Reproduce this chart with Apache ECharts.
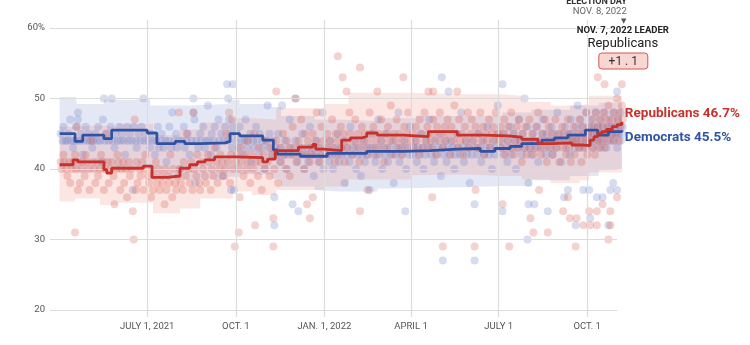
<!DOCTYPE html>
<html>
<head>
<meta charset="utf-8">
<script src="https://cdn.jsdelivr.net/npm/echarts@6/dist/echarts.min.js"></script>
<style>
  html, body { margin: 0; padding: 0; background: #fff; }
  #chart { width: 750px; height: 345px; }
</style>
</head>
<body>
<div id="chart"></div>
<script>
// Generic congressional ballot: poll results, running averages and uncertainty bands.
// Every x value below is a day count from START_DATE.
const START_DATE = Date.UTC(2021, 2, 22);
const ELECTION_DATE = Date.UTC(2022, 10, 8);
const GRID_END_DATE = Date.UTC(2022, 10, 1);
const DAY_MS = 86400000;

const Y_TICKS = [20, 30, 40, 50, 60];
const Y_TICK_LABELS = ['20', '30', '40', '50', '60%'];
const X_TICK_DATES = [Date.UTC(2021, 6, 1), Date.UTC(2021, 9, 1), Date.UTC(2022, 0, 1),
                      Date.UTC(2022, 3, 1), Date.UTC(2022, 6, 1), Date.UTC(2022, 9, 1)];
const X_TICK_LABELS = ['JULY 1, 2021', 'OCT. 1', 'JAN. 1, 2022', 'APRIL 1', 'JULY 1', 'OCT. 1'];

const LEADER_NAME = 'Republicans';
const LEADER_MARGIN = '+1 . 1';

// Running averages [day, percent]
const repAverage = [
  [10,40.6],[24,41.3],[29,41.0],[56,39.9],[59,39.4],[64,40.1],[97,40.4],[106,38.8],[122,39.0],
  [135,40.1],[145,40.6],[153,41.0],[161,41.3],[171,41.7],[192,41.6],[221,41.0],[226,41.4],
  [234,42.6],[258,43.1],[273,43.5],[276,42.8],[284,42.6],[303,44.1],[312,44.4],[324,44.6],
  [329,45.1],[340,44.8],[367,44.6],[393,45.3],[423,44.8],[450,44.7],[476,44.5],[490,44.2],
  [507,43.6],[521,43.7],[542,43.4],[553,43.3],[561,44.1],[565,44.6],[569,45.0],[573,45.3],
  [578,45.6],[584,46.0],[589,46.3],[594,46.7]
];
const demAverage = [
  [10,45.0],[26,43.9],[34,44.8],[56,44.3],[64,45.5],[101,45.1],[111,43.6],[130,43.9],[140,43.6],
  [156,43.7],[182,43.9],[187,45.0],[197,44.7],[221,44.1],[232,42.7],[236,42.1],[260,41.8],
  [288,42.2],[329,42.5],[367,42.6],[395,42.8],[423,42.9],[447,42.5],[462,42.9],[478,43.2],
  [490,43.6],[511,44.1],[524,44.4],[538,44.8],[556,45.5],[569,44.8],[580,45.3],[594,45.5]
];

// Uncertainty bands [day, low, high]
const repBand = [
  [10,35.4,46.0],[26,35.8,46.2],[52,34.9,46.0],[70,35.2,46.4],[107,33.7,44.8],[135,34.4,45.6],
  [156,35.8,46.6],[190,36.8,47.2],[210,36.3,47.0],[235,37.0,48.6],[285,37.5,49.2],[310,38.5,50.8],
  [375,39.1,50.6],[430,39.2,50.6],[470,39.0,50.4],[490,38.5,49.5],[520,38.0,49.0],[550,38.4,49.2],
  [560,39.5,50.4],[594,40.5,51.2]
];
const demBand = [
  [10,40.0,50.2],[26,39.6,50.6],[28,39.5,49.2],[56,39.6,49.8],[86,40.0,50.0],[104,38.6,49.0],
  [145,38.5,49.2],[185,38.9,49.8],[197,39.2,49.2],[230,38.6,48.8],[240,37.5,47.5],[275,37.0,47.0],
  [300,36.8,46.8],[340,37.2,47.2],[380,37.3,47.5],[430,37.4,47.6],[470,37.6,48.0],[500,38.4,48.4],
  [540,39.0,49.0],[570,39.8,49.4],[594,40.0,49.8]
];

// Individual polls [day, percent]
const demPolls = [
  [11,45],[13,44],[14,46],[16,44],[18,44],[19,45],[21,47],[22,44],[24,43],[25,44],[27,46],[28,44],[29,48],[29,47],
  [31,44],[32,45],[34,42],[35,44],[37,46],[39,44],[40,45],[42,44],[44,43],[45,44],[47,45],[49,44],[50,46],[52,44],
  [54,41],[55,47],[56,50],[57,44],[59,45],[61,44],[63,46],[64,50],[65,44],[67,43],[68,45],[70,44],[72,46],[73,44],
  [75,45],[77,44],[78,42],[80,46],[81,44],[83,45],[85,44],[86,37],[87,46],[89,44],[90,43],[92,45],[94,44],[95,46],
  [97,50],[98,44],[99,45],
  [102,44],[104,43],[105,45],[107,44],[109,42],[110,44],[112,46],[113,43],[115,44],[116,45],[118,43],[120,44],
  [121,41],[123,44],[124,46],[126,43],[127,48],[129,44],[131,45],[132,43],[134,44],[135,40],[137,44],[139,46],
  [140,43],[142,44],[143,45],[145,42],[147,44],[149,50],[149,48],[150,47],[151,38],[152,44],[154,43],[156,45],
  [157,44],[159,46],[161,43],[162,44],[164,49],[165,44],[167,42],[168,45],[170,44],[171,46],[173,43],[175,47],
  [176,44],[178,45],[179,39],[181,44],[182,46],[184,52],[185,50],[185,44],[186,47],[187,45],[188,37],[189,43],
  [190,52],[190,46],[191,37],
  [193,44],[194,45],[196,43],[197,46],[199,44],[200,42],[202,44],[203,47],[205,43],[206,44],[208,45],[209,41],
  [211,44],[212,43],[214,46],[215,44],[217,42],[218,45],[220,43],[221,44],[223,40],[224,44],[226,49],[227,43],
  [228,45],[230,42],[232,44],[233,36],[233,32],[234,43],[236,42],[237,45],[239,41],[240,43],[241,49],[243,42],
  [244,44],[246,40],[247,42],[249,47],[250,43],[252,35],[253,42],[255,50],[255,44],[257,41],[258,34],[259,43],
  [261,42],[262,45],[264,40],[265,42],[267,43],[268,41],[270,46],[271,42],[273,43],[274,39],[276,42],[277,44],
  [279,41],[280,43],[282,42],[283,48],[284,40],
  [287,42],[288,43],[290,41],[291,44],[293,42],[294,40],[296,43],[297,42],[299,45],[300,41],[302,43],[303,42],
  [305,44],[306,38],[308,42],[309,43],[311,41],[312,46],[314,42],[315,43],[317,44],[318,40],[320,42],[321,43],
  [323,39],[324,42],[326,44],[327,41],[329,43],[330,42],[332,37],[333,43],[335,45],[336,42],[338,41],[339,43],
  [341,47],[342,42],[344,44],[345,40],[347,43],[348,42],[350,45],[351,41],[353,43],[354,42],[356,44],[357,38],
  [359,42],[360,43],[362,48],[363,41],[365,43],[366,42],[368,44],[369,34],[370,40],[372,43],[373,42],[374,46],
  [377,42],[378,43],[379,44],[381,41],[382,43],[384,42],[385,45],[387,43],[388,40],[390,42],[391,44],[393,43],
  [394,47],[396,42],[397,43],[399,41],[400,44],[402,42],[403,43],[405,45],[406,39],[407,53],[408,27],[408,43],
  [409,42],[411,44],[412,41],[414,51],[414,43],[415,42],[417,44],[418,43],[420,40],[421,42],[423,45],[424,43],
  [426,42],[427,48],[429,43],[430,41],[432,44],[433,42],[435,43],[436,38],[438,42],[439,44],[441,35],[441,27],
  [442,43],[444,42],[445,45],[447,43],[448,41],[450,44],[451,42],[453,43],[454,46],[456,42],[457,43],[459,40],
  [460,44],[462,42],[463,43],[465,45],[465,49],
  [468,43],[469,44],[470,52],[470,34],[471,42],[472,45],[474,43],[475,41],[476,44],[478,46],[479,42],[480,43],
  [482,45],[483,44],[484,40],[486,43],[487,47],[488,44],[490,42],[491,45],[493,50],[493,43],[494,44],[496,30],
  [496,46],[497,35],[497,38],[498,43],[499,44],[500,42],[502,45],[503,35],[503,44],[504,43],[506,46],[507,41],
  [508,44],[510,43],[511,45],[512,47],[514,44],[515,42],[516,45],[517,34],[518,43],[519,44],[521,46],[522,42],
  [523,45],[525,44],[526,43],[527,48],[529,44],[530,45],[531,41],[533,44],[534,36],[535,46],[536,43],[538,37],
  [538,45],[539,44],[540,42],[541,47],[542,45],[543,44],[545,43],[546,32],[546,46],[547,44],[548,49],[549,45],
  [550,43],[551,47],[552,44],[553,46],[554,37],[555,45],[556,43],[557,48],[558,44],
  [559,45],[560,37],[560,46],[561,33],[561,44],[562,47],[563,45],[564,43],[565,46],[566,44],[567,48],[568,36],
  [568,45],[569,46],[570,44],[571,47],[572,43],[573,45],[574,36],[574,46],[575,44],[576,48],[577,45],[578,43],
  [579,46],[580,32],[580,45],[581,47],[582,37],[582,44],[583,46],[584,45],[585,38],[585,48],[586,44],[587,46],
  [588,45],[589,51],[589,37],[589,43],[590,47],[591,45],[592,46],[593,44],[594,48],[594,45],[595,46]
];
const repPolls = [
  [11,41],[12,40],[14,42],[15,41],[17,40],[18,39],[20,41],[21,38],[23,40],[24,41],[26,31],[26,42],[27,40],[28,46],
  [29,37],[30,41],[31,38],[33,40],[34,41],[36,39],[37,42],[38,41],[40,40],[41,37],[43,44],[44,41],[46,40],[47,38],
  [49,41],[50,39],[52,40],[53,42],[55,41],[56,37],[57,40],[58,45],[60,41],[61,38],[63,40],[64,41],[66,39],[67,35],
  [69,40],[70,42],[71,41],[73,37],[74,40],[76,41],[77,38],[79,40],[80,36],[82,41],[83,39],[85,40],[86,34],[87,30],
  [88,47],[89,37],[90,41],[91,38],[93,40],[94,39],[96,41],[97,37],[98,40],[99,42],
  [102,39],[103,38],[105,36],[106,40],[107,37],[108,39],[110,41],[111,38],[113,40],[114,37],[116,39],[117,38],
  [119,35],[120,40],[121,37],[123,39],[124,38],[125,42],[127,36],[128,40],[130,38],[131,37],[133,39],[134,48],
  [135,40],[136,38],[138,37],[139,41],[141,39],[142,45],[144,40],[145,38],[147,41],[148,37],[149,48],[150,40],
  [152,39],[153,42],[155,38],[156,37],[158,41],[159,40],[161,39],[162,38],[164,42],[165,41],[167,37],[168,40],
  [170,39],[171,43],[173,41],[174,38],[176,40],[177,42],[179,41],[180,39],[182,40],[183,45],[185,41],[186,48],
  [187,38],[188,42],[189,47],[190,40],
  [192,29],[193,41],[194,42],[196,31],[196,40],[197,36],[198,43],[199,41],[201,39],[202,42],[204,40],[205,44],
  [206,41],[208,38],[209,42],[211,40],[212,45],[213,32],[214,41],[216,39],[217,43],[219,41],[220,37],[222,42],
  [223,40],[225,44],[226,41],[228,39],[229,43],[231,42],[232,29],[232,33],[233,40],[235,51],[235,44],[236,42],
  [237,38],[239,43],[240,41],[242,45],[243,42],[245,40],[246,44],[248,43],[249,39],[251,42],[252,46],[254,43],
  [255,50],[256,41],[258,44],[259,42],[261,47],[262,43],[264,40],[265,45],[267,35],[267,42],[268,44],[270,33],
  [270,41],[271,43],[273,36],[273,45],[274,42],[276,44],[277,48],[279,43],[280,41],[282,46],[283,42],[284,44],
  [287,43],[288,45],[290,42],[291,44],[293,47],[294,43],[296,41],[297,45],[299,56],[299,44],[300,42],[302,46],
  [303,43],[304,53],[305,45],[306,41],[308,51],[308,44],[309,43],[311,48],[312,45],[314,42],[315,44],[317,47],
  [318,43],[320,45],[321,41],[322,54.4],[322,34],[323,44],[324,46],[326,43],[327,45],[329,42],[330,37],[330,44],
  [332,48],[333,45],[335,43],[336,46],[338,44],[339,42],[340,51],[341,45],[342,43],[344,47],[345,44],[347,41],
  [348,45],[350,43],[351,46],[353,44],[354,49],[356,42],[357,45],[359,44],[360,47],[362,43],[363,45],[365,42],
  [366,44],[367,53],[368,46],[369,43],[371,45],[372,48],[374,44],
  [377,45],[378,43],[380,46],[381,44],[383,42],[384,47],[386,45],[387,43],[389,48],[390,44],[392,46],[393,51],
  [393,45],[395,43],[396,44],[397,36],[398,51],[398,47],[399,45],[401,42],[402,46],[404,44],[405,48],[407,45],
  [408,29],[408,43],[410,46],[411,44],[413,47],[414,45],[416,42],[417,46],[419,44],[420,49],[422,45],[423,51],
  [423,43],[425,47],[426,44],[428,45],[429,42],[431,46],[432,44],[434,48],[435,43],[437,45],[438,47],[440,44],
  [441,29],[442,37],[442,46],[444,43],[445,45],[447,48],[448,44],[450,46],[451,42],[453,45],[454,44],[456,47],
  [457,43],[459,45],[460,46],[462,44],[463,48],[465,45],
  [467,44],[468,46],[469,43],[470,35],[471,45],[472,47],[473,42],[475,44],[476,46],[477,29],[478,43],[479,48],
  [481,45],[482,42],[483,44],[485,46],[486,43],[487,47],[489,44],[490,41],[491,45],[493,43],[494,46],[495,42],
  [497,44],[498,47],[499,33],[499,43],[501,45],[502,31],[502,42],[503,44],[505,46],[506,43],[507,48],[508,37],
  [509,44],[510,42],[512,45],[513,43],[514,47],[516,41],[517,31],[517,44],[518,46],[520,43],[521,45],[522,42],
  [524,44],[525,47],[526,43],[528,45],[529,41],[530,44],[532,46],[533,34],[533,43],[534,45],[536,42],[537,44],
  [538,36],[538,47],[539,43],[540,33],[540,45],[541,41],[543,44],[544,46],[545,42],[546,29],[546,44],[547,33],
  [548,45],[549,43],[550,47],[551,44],[552,41],[553,46],[554,32],[554,43],[555,45],[556,44],[557,48],[558,42],
  [559,45],[560,34],[560,44],[561,32],[562,46],[563,43],[564,47],[565,45],[566,42],[567,48],[568,32],[568,34],
  [568,44],[569,53],[569,46],[570,43],[571,45],[572,47],[573,44],[574,35],[574,46],[575,48],[576,52],[576,43],
  [577,45],[578,47],[579,44],[580,30],[580,49],[581,46],[582,34],[582,32],[583,45],[584,47],[585,44],[586,48],
  [587,46],[588,45],[589,36],[589,50],[590,47],[591,44],[592,48],[593,46],[594,52],[594,49],[595,47]
];

const REP_COLOR = '#c8312b';
const DEM_COLOR = '#3152a3';
const AXIS_FONT = '"Liberation Sans Narrow", "Roboto", sans-serif';
const LABEL_FONT = '"Liberation Sans Narrow", "Roboto", sans-serif';
const Y_MIN = 19, Y_MAX = 61.13;

const toTime = d => START_DATE + d * DAY_MS;
const points = arr => arr.map(p => [toTime(p[0]), p[1]]);
const bandLow = arr => arr.map(p => [toTime(p[0]), p[1]]);
const bandSpan = arr => arr.map(p => [toTime(p[0]), +(p[2] - p[1]).toFixed(2)]);

function bandSeries(band, stackName, color) {
  return [
    { type: 'line', data: bandLow(band), stack: stackName, step: 'end', symbol: 'none',
      lineStyle: { opacity: 0 }, silent: true, z: 1 },
    { type: 'line', data: bandSpan(band), stack: stackName, step: 'end', symbol: 'none',
      lineStyle: { opacity: 0 }, areaStyle: { color: color, opacity: 1 }, silent: true, z: 1 }
  ];
}

const chart = echarts.init(document.getElementById('chart'), null, { renderer: 'canvas' });

const option = {
  animation: false,
  grid: { left: 50, right: 126.2, top: 20, bottom: 28 },
  xAxis: { type: 'time', min: START_DATE, max: ELECTION_DATE, show: false },
  yAxis: { type: 'value', min: Y_MIN, max: Y_MAX, show: false },
  series: [
    {
      // grid lines and axis labels
      type: 'line', data: [], z: 0, silent: true,
      markLine: {
        silent: true, symbol: ['none', 'none'], animation: false,
        lineStyle: { color: '#dcdcdc', width: 1.2, type: 'solid' },
        label: { show: true, position: 'start', formatter: '{b}', color: '#555',
                 fontFamily: AXIS_FONT, fontSize: 9.5, distance: 5 },
        data: [
          ...Y_TICKS.map((v, i) => [
            { name: Y_TICK_LABELS[i], coord: [START_DATE, v] },
            { coord: [GRID_END_DATE, v] }
          ]),
          ...X_TICK_DATES.map((t, i) => [
            { name: X_TICK_LABELS[i], coord: [t, Y_MIN] },
            { coord: [t, Y_MAX] }
          ])
        ]
      }
    },
    ...bandSeries(demBand, 'demBand', 'rgba(112,132,200,0.19)'),
    ...bandSeries(repBand, 'repBand', 'rgba(232,104,92,0.17)'),
    {
      type: 'scatter', data: points(demPolls), symbolSize: 8, z: 2, silent: true,
      itemStyle: { color: 'rgba(110,128,200,0.35)' }
    },
    {
      type: 'scatter', data: points(repPolls), symbolSize: 8, z: 2, silent: true,
      itemStyle: { color: 'rgba(215,92,82,0.35)' }
    },
    {
      // election day marker line
      type: 'line', data: [], z: 4, silent: true,
      markLine: {
        silent: true, symbol: ['none', 'none'], label: { show: false },
        lineStyle: { color: '#555', width: 1.5, type: [2, 1.5] },
        data: [[{ coord: [ELECTION_DATE, 18.2] }, { coord: [ELECTION_DATE, 60.5] }]]
      }
    },
    {
      name: 'Democrats', type: 'line', data: points(demAverage), step: 'end', symbol: 'none', z: 5,
      lineStyle: { color: DEM_COLOR, width: 2.8 },
      endLabel: {
        show: true, offset: [0, 7], distance: 3, color: DEM_COLOR, fontWeight: 'bold', fontSize: 13.5,
        fontFamily: LABEL_FONT, formatter: p => 'Democrats ' + p.value[1].toFixed(1) + '%'
      }
    },
    {
      name: 'Republicans', type: 'line', data: points(repAverage), step: 'end', symbol: 'none', z: 5,
      lineStyle: { color: REP_COLOR, width: 2.8 },
      endLabel: {
        show: true, offset: [0, -8], distance: 3, color: REP_COLOR, fontWeight: 'bold', fontSize: 13.5,
        fontFamily: LABEL_FONT, formatter: p => 'Republicans ' + p.value[1].toFixed(1) + '%'
      }
    }
  ]
};
chart.setOption(option);

// Election-day header and leader box, anchored to the election date
const ex = chart.convertToPixel({ xAxisIndex: 0 }, ELECTION_DATE);
chart.setOption({
  graphic: [
    { type: 'text', z: 10, style: { x: ex + 3, y: 2, text: 'ELECTION DAY', textAlign: 'right', textVerticalAlign: 'middle',
      font: 'bold 9px "Roboto", sans-serif', fill: '#333' } },
    { type: 'text', z: 10, style: { x: ex + 3, y: 12, text: 'NOV. 8, 2022', textAlign: 'right', textVerticalAlign: 'middle',
      font: '9.5px "Roboto", sans-serif', fill: '#666' } },
    { type: 'text', z: 10, style: { x: ex, y: 21, text: '▼', textAlign: 'center', textVerticalAlign: 'middle',
      font: '7px "DejaVu Sans", sans-serif', fill: '#555' } },
    { type: 'text', z: 10, style: { x: ex - 1, y: 31, text: 'NOV. 7, 2022 LEADER', textAlign: 'center', textVerticalAlign: 'middle',
      font: 'bold 9.5px "Roboto", sans-serif', fill: '#222', stroke: '#fff', lineWidth: 2 } },
    { type: 'text', z: 10, style: { x: ex - 1, y: 44, text: LEADER_NAME, textAlign: 'center', textVerticalAlign: 'middle',
      font: '13px "Roboto", sans-serif', fill: '#222', stroke: '#fff', lineWidth: 2 } },
    { type: 'rect', z: 10, shape: { x: ex - 25, y: 53, width: 49, height: 16, r: 3 },
      style: { fill: '#f8d6d2', stroke: '#cf5b55', lineWidth: 1 } },
    { type: 'text', z: 11, style: { x: ex - 0.5, y: 61.5, text: LEADER_MARGIN,
      textAlign: 'center', textVerticalAlign: 'middle', font: '12px "Roboto", sans-serif', fill: '#333' } }
  ]
});
</script>
</body>
</html>
